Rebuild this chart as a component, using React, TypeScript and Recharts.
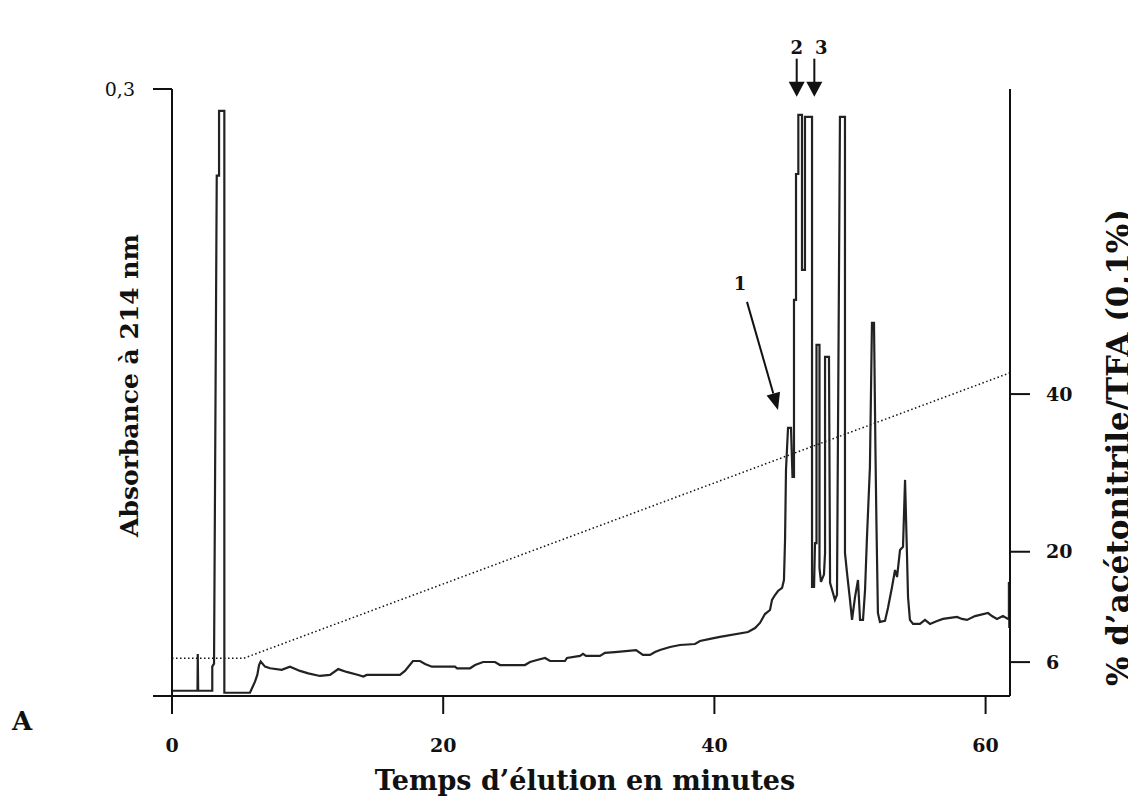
import React from "react";
import { ComposedChart, Line, XAxis, YAxis, ReferenceDot, Label } from "recharts";

const FONT = "'DejaVu Serif', serif";

// chromatogram trace: elution time (min) and absorbance at 214 nm
const elutionTimes = [
  0, 1.88, 1.9, 1.93, 2.97, 2.97, 3.1, 3.3, 3.47, 3.47, 3.86, 3.86,
  5.75, 5.95, 6.12, 6.29, 6.42, 6.54, 6.86, 7.23, 8.09, 8.7, 9.44, 10.05,
  10.91, 11.65, 12.26, 12.88, 13.74, 14.11, 14.36, 16.81, 17.18, 17.77, 18.29, 18.66,
  19.17, 20.87, 21.02, 21.98, 22.35, 22.94, 23.82, 24.19, 26.03, 26.4, 26.92, 27.51,
  27.88, 28.98, 29.13, 30.09, 30.31, 30.53, 31.56, 31.93, 32.67, 34.22, 34.73, 35.25,
  35.62, 35.99, 36.73, 37.46, 38.57, 38.94, 39.68, 40.41, 42.48, 43.0, 43.36, 43.73,
  44.1, 44.25, 44.47, 44.69, 44.99, 45.13, 45.21, 45.28, 45.43, 45.65, 45.76, 45.87,
  45.87, 46.02, 46.02, 46.19, 46.19, 46.46, 46.46, 46.68, 46.68, 47.2, 47.2, 47.35,
  47.42, 47.53, 47.53, 47.75, 47.75, 47.86, 48.08, 48.16, 48.16, 48.45, 48.53, 48.89,
  49.04, 49.26, 49.63, 49.63, 49.78, 50.0, 50.15, 50.37, 50.59, 50.74, 50.96, 51.11,
  51.25, 51.47, 51.62, 51.77, 51.88, 51.95, 52.06, 52.21, 52.58, 52.8, 53.1, 53.32,
  53.47, 53.69, 53.91, 54.06, 54.2, 54.28, 54.42, 54.65, 55.16, 55.53, 55.9, 56.42,
  56.86, 57.37, 57.89, 58.26, 58.63, 59.22, 60.18, 60.47, 60.84, 61.28, 61.65, 61.72,
  61.72, 61.75,
];

const absorbance = [
  0.0026, 0.0026, 0.0208, 0.0026, 0.0026, 0.0145, 0.016, 0.2572, 0.2572, 0.2892, 0.2892, 0.0016,
  0.0016, 0.0046, 0.0071, 0.0104, 0.0153, 0.017, 0.0145, 0.0137, 0.0129, 0.0145, 0.0124, 0.0112,
  0.0099, 0.0104, 0.0133, 0.0119, 0.0104, 0.0096, 0.0104, 0.0104, 0.0124, 0.0173, 0.0173, 0.0158,
  0.0145, 0.0145, 0.0137, 0.0137, 0.0153, 0.0168, 0.0168, 0.0153, 0.0153, 0.0168, 0.0178, 0.0188,
  0.0173, 0.0173, 0.0188, 0.0198, 0.0208, 0.0198, 0.0198, 0.0213, 0.0217, 0.0227, 0.0203, 0.0203,
  0.0217, 0.0227, 0.0242, 0.0252, 0.0257, 0.0272, 0.0282, 0.0292, 0.0316, 0.0336, 0.0361, 0.0405,
  0.0425, 0.0475, 0.0499, 0.0519, 0.0534, 0.0573, 0.0771, 0.1117, 0.1325, 0.1325, 0.1083, 0.1083,
  0.1958, 0.1958, 0.258, 0.258, 0.2872, 0.2872, 0.2106, 0.2106, 0.2862, 0.2862, 0.0539, 0.0539,
  0.0756, 0.0756, 0.1735, 0.1735, 0.0633, 0.0564, 0.06, 0.0707, 0.1676, 0.1676, 0.0559, 0.0475,
  0.05, 0.2862, 0.2862, 0.0707, 0.0608, 0.0475, 0.0376, 0.0489, 0.0573, 0.0376, 0.0376, 0.0524,
  0.0781, 0.1132, 0.1844, 0.1844, 0.1201, 0.0855, 0.041, 0.0366, 0.0371, 0.0435, 0.0539, 0.0623,
  0.0588, 0.0722, 0.0737, 0.1068, 0.0707, 0.0489, 0.0376, 0.0356, 0.0356, 0.0376, 0.0356, 0.0371,
  0.0381, 0.0386, 0.0391, 0.0381, 0.0376, 0.0395, 0.041, 0.0395, 0.0381, 0.0395, 0.0381, 0.0381,
  0.0564, 0.0336,
];

// acetonitrile gradient (dotted line, right axis)
const gradientTimes = [0, 5.31, 61.8];
const gradientPct = [6.5, 6.5, 42.7];

const timeTicks = [0, 20, 40, 60];
const absTicks = [0, 0.3];
const pctTicks = [6, 20, 40];

// numbered peaks: arrow tip position in data units
const peakLabels = ["1", "2", "3"];
const peakTimes = [44.69, 46.07, 47.37];
const peakAbs = [0.1414, 0.2962, 0.2962];

const rows = [
  ...elutionTimes.map((t, i) => ({ t, abs: absorbance[i] })),
  ...gradientTimes.map((t, i) => ({ t, grad: gradientPct[i] })),
].sort((a: any, b: any) => a.t - b.t);

const ArrowShape = (label: string) => (props: any) => {
  const { cx, cy } = props;
  if (label === "1") {
    const tx = cx - 31;
    const ty = cy - 108;
    const len = Math.hypot(cx - tx, cy - ty);
    const dx = (cx - tx) / len;
    const dy = (cy - ty) / len;
    const bx = cx - dx * 17;
    const by = cy - dy * 17;
    const px = -dy * 7;
    const py = dx * 7;
    return (
      <g>
        <line x1={tx} y1={ty} x2={bx} y2={by} stroke="#111" strokeWidth={2} />
        <polygon points={`${cx},${cy} ${bx + px},${by + py} ${bx - px},${by - py}`} fill="#111" />
        <text x={cx - 38} y={cy - 120} textAnchor="middle" fontFamily={FONT} fontWeight="bold" fontSize={18} fill="#111">
          {label}
        </text>
      </g>
    );
  }
  const dxLabel = label === "3" ? 7 : 0;
  return (
    <g>
      <line x1={cx} y1={cy - 38} x2={cx} y2={cy - 14} stroke="#111" strokeWidth={2} />
      <polygon points={`${cx},${cy} ${cx - 8},${cy - 15} ${cx + 8},${cy - 15}`} fill="#111" />
      <text x={cx + dxLabel} y={cy - 43} textAnchor="middle" fontFamily={FONT} fontWeight="bold" fontSize={18} fill="#111">
        {label}
      </text>
    </g>
  );
};

const XTitle = (props: any) => {
  const { viewBox } = props;
  return (
    <g>
      <text x={viewBox.x + viewBox.width / 2 - 6} y={viewBox.y + 94} textAnchor="middle" fontFamily={FONT} fontWeight="bold" fontSize={27} fill="#111">
        Temps d’élution en minutes
      </text>
      <text x={4} y={viewBox.y + 34} fontFamily={FONT} fontWeight="bold" fontSize={26} fill="#111">
        A
      </text>
    </g>
  );
};

const LeftTitle = (props: any) => {
  const { viewBox } = props;
  const x = 130;
  const y = viewBox.y + viewBox.height / 2 - 7;
  return (
    <text x={x} y={y} transform={`rotate(-90 ${x} ${y})`} textAnchor="middle" fontFamily={FONT} fontWeight="bold" fontSize={25} fill="#111">
      Absorbance  à 214 nm
    </text>
  );
};

const RightTitle = (props: any) => {
  const { viewBox } = props;
  const x = 1121;
  const y = viewBox.y + viewBox.height / 2 + 55;
  return (
    <text x={x} y={y} transform={`rotate(-90 ${x} ${y})`} textAnchor="middle" fontFamily={FONT} fontWeight="bold" fontSize={31} fill="#111">
      % d’acétonitrile/TFA (0,1%)
    </text>
  );
};

const App = () => {
  return (
    <div style={{ background: "#fff" }}>
      <ComposedChart
        width={1128}
        height={796}
        data={rows}
        margin={{ top: 81, right: 0, bottom: 0, left: 0 }}
      >
        <XAxis
          dataKey="t"
          type="number"
          domain={[0, 61.8]}
          ticks={timeTicks}
          allowDataOverflow
          height={108}
          tickSize={18}
          tickMargin={25}
          axisLine={{ stroke: "#111", strokeWidth: 2 }}
          tickLine={{ stroke: "#111", strokeWidth: 2 }}
          tick={{ fill: "#111", fontSize: 19, fontWeight: "bold", fontFamily: FONT }}
        >
          <Label content={XTitle} />
        </XAxis>
        <YAxis
          yAxisId="abs"
          type="number"
          domain={[0, 0.3]}
          ticks={absTicks}
          allowDataOverflow
          width={164}
          tickSize={19}
          tickMargin={18}
          tickFormatter={(v: number) => (v === 0.3 ? "0,3" : "")}
          axisLine={{ stroke: "#111", strokeWidth: 2 }}
          tickLine={{ stroke: "#111", strokeWidth: 2 }}
          tick={{ fill: "#111", fontSize: 19, fontFamily: FONT }}
        >
          <Label content={LeftTitle} />
        </YAxis>
        <YAxis
          yAxisId="pct"
          orientation="right"
          type="number"
          domain={[1.7, 78.7]}
          ticks={pctTicks}
          allowDataOverflow
          width={126}
          tickSize={20}
          tickMargin={16}
          axisLine={{ stroke: "#111", strokeWidth: 2 }}
          tickLine={{ stroke: "#111", strokeWidth: 2 }}
          tick={{ fill: "#111", fontSize: 19, fontWeight: "bold", fontFamily: FONT }}
        >
          <Label content={RightTitle} />
        </YAxis>
        <Line
          yAxisId="pct"
          dataKey="grad"
          type="linear"
          dot={false}
          stroke="#111"
          strokeWidth={1.5}
          strokeDasharray="1.5 2.5"
          connectNulls
          isAnimationActive={false}
        />
        <Line
          yAxisId="abs"
          dataKey="abs"
          type="linear"
          dot={false}
          stroke="#222"
          strokeWidth={2.2}
          connectNulls
          isAnimationActive={false}
        />
        {peakLabels.map((label, i) => (
          <ReferenceDot
            key={label}
            yAxisId="abs"
            x={peakTimes[i]}
            y={peakAbs[i]}
            ifOverflow="visible"
            shape={ArrowShape(label)}
          />
        ))}
      </ComposedChart>
    </div>
  );
};

export default App;
